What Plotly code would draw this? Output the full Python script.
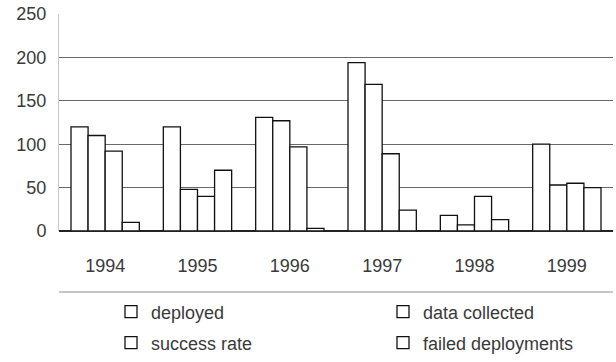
import plotly.graph_objects as go

years = ["1994", "1995", "1996", "1997", "1998", "1999"]
deployed = [120, 120, 131, 194, 18, 100]
data_collected = [110, 48, 127, 169, 7, 53]
success_rate = [92, 40, 97, 89, 40, 55]
failed_deployments = [10, 70, 3, 24, 13, 50]
y_ticks = [0, 50, 100, 150, 200, 250]

series = [
    ("deployed", deployed, "legend"),
    ("data collected", data_collected, "legend"),
    ("success rate", success_rate, "legend2"),
    ("failed deployments", failed_deployments, "legend2"),
]

FONT = "Liberation Sans, Arial, sans-serif"
TXT = "#3a3a3a"

W, H = 616, 362

fig = go.Figure()
for name, vals, lg in series:
    fig.add_trace(go.Bar(
        x=years, y=vals, name=name, legend=lg,
        marker=dict(color="white", line=dict(color="#111111", width=1.3)),
    ))

legend_common = dict(
    orientation="h", xref="container", yref="container",
    xanchor="left", yanchor="middle", entrywidth=227, entrywidthmode="pixels",
    font=dict(family=FONT, size=18, color=TXT), bgcolor="rgba(0,0,0,0)",
    itemclick=False, itemdoubleclick=False,
)

m_l, m_r, m_t = 59, 3, 14
m_b = H - 231
plot_h = H - m_t - m_b
line_y = (231 - 292) / plot_h

fig.update_layout(
    width=W, height=H,
    margin=dict(l=m_l, r=m_r, t=m_t, b=m_b, autoexpand=False),
    paper_bgcolor="white", plot_bgcolor="white",
    barmode="group", bargap=0.26, bargroupgap=0,
    font=dict(family=FONT, size=18, color=TXT),
    showlegend=True,
    legend=dict(x=(124 - 13) / W, y=1 - 312 / H, **legend_common),
    legend2=dict(x=(124 - 13) / W, y=1 - 343 / H, **legend_common),
    xaxis=dict(
        showgrid=False, showline=False, zeroline=False, automargin=False,
        ticks="", ticklabelstandoff=22,
        tickfont=dict(family=FONT, size=18, color=TXT),
    ),
    yaxis=dict(
        range=[0, 250], tickvals=y_ticks, automargin=False,
        showgrid=True, gridcolor="#6a6a6a", gridwidth=1,
        zeroline=True, zerolinecolor="#222222", zerolinewidth=1.5,
        showline=True, linecolor="#c8c8c8", linewidth=1,
        ticks="", ticklabelstandoff=8,
        tickfont=dict(family=FONT, size=18, color=TXT),
    ),
    shapes=[
        dict(type="line", xref="paper", yref="paper",
             x0=0.0, x1=1.0, y0=line_y, y1=line_y,
             line=dict(color="#8a8a8a", width=1)),
    ],
)

fig.write_html(
    "out.html",
    config={"displayModeBar": False},
    post_script="document.body.style.margin='0';",
)
